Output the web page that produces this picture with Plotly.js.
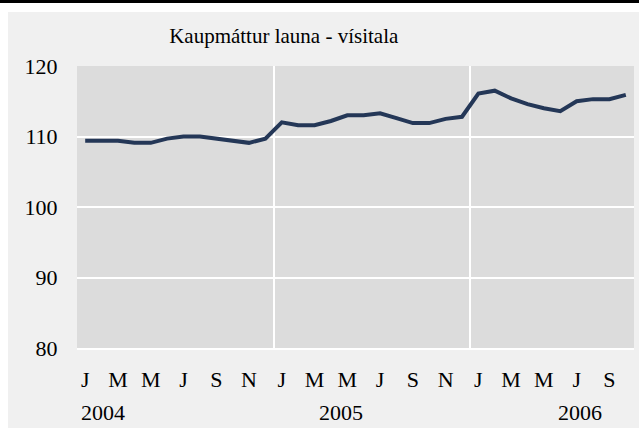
<!DOCTYPE html>
<html>
<head>
<meta charset="utf-8">
<script src="https://cdn.plot.ly/plotly-3.0.1.min.js"></script>
<style>
  html, body { margin: 0; padding: 0; background: #ffffff; }
  #topbar { position: absolute; left: 0; top: 0; width: 639px; height: 3px; background: #000000; }
  #chart { position: absolute; left: 8px; top: 12px; width: 631px; height: 416px; }
</style>
</head>
<body>
<div id="topbar"></div>
<div id="chart"></div>
<script>
// monthly index, Jan 2004 - Oct 2006
var months = ['J','F','M','A','M','J','J','A','S','O','N','D'];
var index = [109.4,109.4,109.4,109.1,109.1,109.7,110.0,110.0,109.7,109.4,109.1,109.7,
             112.0,111.6,111.6,112.2,113.0,113.0,113.3,112.6,111.9,111.9,112.5,112.8,
             116.1,116.5,115.4,114.6,114.0,113.6,115.0,115.3,115.3,115.9];
var years = ['2004','2005','2006'];
var yearPos = [1.1, 15.6, 30.2];

var x = index.map(function (v, i) { return i; });
var tickvals = [], ticktext = [];
for (var i = 0; i < index.length; i += 2) {
  tickvals.push(i);
  ticktext.push(months[i % 12]);
}

var trace = {
  x: x,
  y: index,
  mode: 'lines',
  line: {color: '#243757', width: 4}
};

var font = {family: '"Liberation Serif", "Times New Roman", serif', size: 22, color: '#000000'};

var layout = {
  width: 631,
  height: 416,
  margin: {l: 69, r: 5, t: 54, b: 80},
  paper_bgcolor: '#f0f0f0',
  plot_bgcolor: '#dcdcdc',
  showlegend: false,
  font: font,
  title: {
    text: 'Kaupmáttur launa - vísitala',
    font: {family: font.family, size: 21, color: '#000000'},
    xref: 'container', x: 0.437, xanchor: 'center',
    yref: 'container', y: 0.943, yanchor: 'middle'
  },
  xaxis: {
    range: [-0.5, 33.5],
    tickvals: tickvals,
    ticktext: ticktext,
    showgrid: false,
    zeroline: false,
    ticks: 'outside', ticklen: 11, tickcolor: 'rgba(0,0,0,0)',
    showline: true, linecolor: '#ffffff', linewidth: 2,
    minor: {tick0: -0.5, dtick: 12, showgrid: true, gridcolor: '#ffffff', gridwidth: 2, ticks: ''},
    tickfont: font,
    fixedrange: true
  },
  yaxis: {
    range: [80, 120],
    dtick: 10,
    gridcolor: '#ffffff',
    gridwidth: 2,
    zeroline: false,
    ticks: 'outside', ticklen: 14, tickcolor: 'rgba(0,0,0,0)',
    tickfont: font,
    fixedrange: true
  },
  annotations: years.map(function (yr, k) {
    return {
      text: yr, x: yearPos[k], xref: 'x', y: 0, yref: 'paper',
      yanchor: 'middle', xanchor: 'center', yshift: -64,
      showarrow: false, font: font
    };
  })
};

Plotly.newPlot('chart', [trace], layout, {displayModeBar: false, staticPlot: true});
</script>
</body>
</html>
